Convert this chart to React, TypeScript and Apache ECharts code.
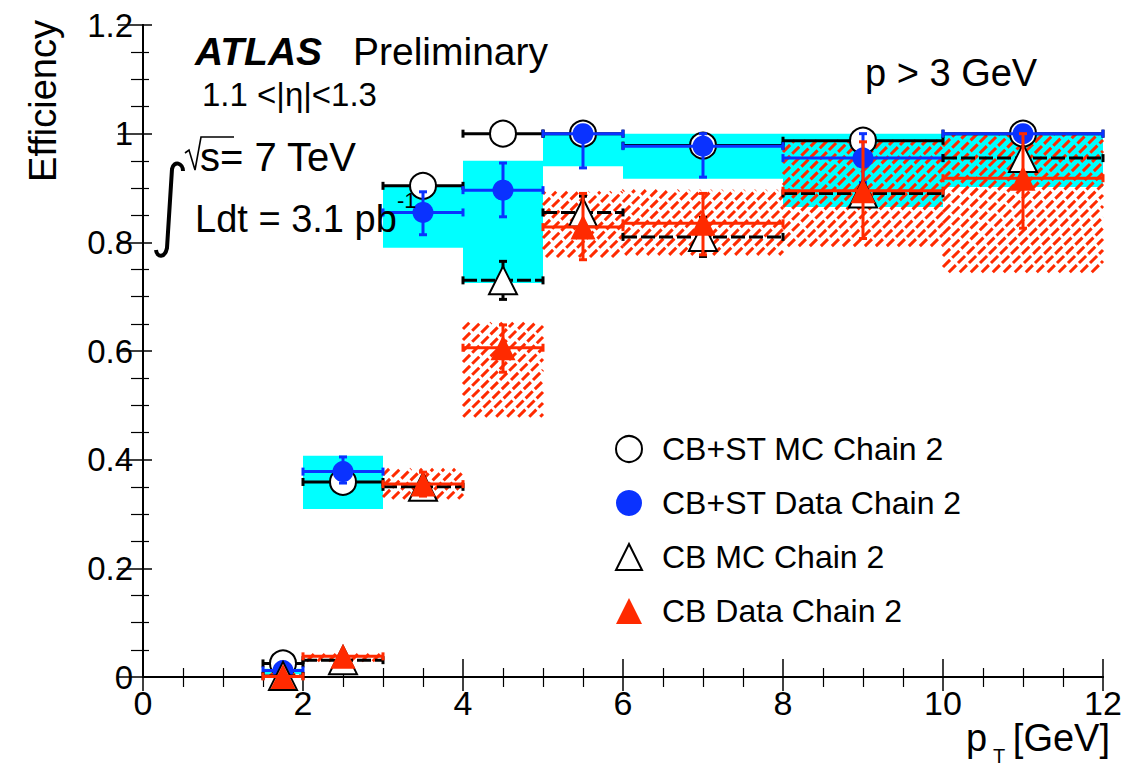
import React, { useEffect, useRef } from "react";
import * as echarts from "echarts";

// ---- data ----
const binLow = [1.5, 2, 3, 4, 5, 6, 8, 10];
const binHigh = [2, 3, 4, 5, 6, 8, 10, 12];
const binCenter = [1.75, 2.5, 3.5, 4.5, 5.5, 7, 9, 11];

// CB+ST MC Chain 2 (open circles)
const cbstMC = [0.025, 0.359, 0.904, 1.0, 1.0, 0.978, 0.987, 1.0];
const cbstMCErr = [0.004, 0.004, 0.004, 0.003, 0.003, 0.003, 0.004, 0.002];

// CB+ST Data Chain 2 (blue dots)
const cbstData = [0.012, 0.378, 0.855, 0.896, 1.0, 0.977, 0.955, 1.0];
const cbstDataErrLo = [0.004, 0.021, 0.041, 0.049, 0.063, 0.057, 0.045, 0.015];
const cbstDataErrHi = [0.004, 0.027, 0.038, 0.05, 0.0, 0.023, 0.045, 0.0];
const cbstSysLo = [0.005, 0.309, 0.79, 0.725, 0.94, 0.917, 0.865, 0.902];
const cbstSysHi = [0.015, 0.407, 0.902, 0.95, 1.0, 1.0, 1.0, 1.0];

// CB MC Chain 2 (open triangles)
const cbMC = [0.002, 0.031, 0.35, 0.73, 0.855, 0.81, 0.89, 0.955];
const cbMCErr = [0.003, 0.004, 0.008, 0.035, 0.03, 0.036, 0.012, 0.01];

// CB Data Chain 2 (red triangles)
const cbData = [0.001, 0.038, 0.355, 0.606, 0.828, 0.835, 0.895, 0.918];
const cbDataErrLo = [0.001, 0.005, 0.022, 0.045, 0.06, 0.058, 0.088, 0.092];
const cbDataErrHi = [0.003, 0.005, 0.022, 0.042, 0.062, 0.055, 0.09, 0.082];
const cbSysLo = [0.0, 0.029, 0.328, 0.479, 0.773, 0.777, 0.793, 0.745];
const cbSysHi = [0.007, 0.042, 0.383, 0.652, 0.893, 0.896, 0.988, 1.0];

const xTicks = { min: 0, max: 12, interval: 2 };
const yTicks = { min: 0, max: 1.2, interval: 0.2 };

const legendNames = [
  "CB+ST MC Chain 2",
  "CB+ST Data Chain 2",
  "CB MC Chain 2",
  "CB Data Chain 2",
];

const BLACK = "#000000";
const BLUE = "#0a32ff";
const RED = "#ff2a00";
const CYAN = "#00ffff";
const FONT = "'Liberation Sans', Arial, Helvetica, sans-serif";

// integral sign outline (drawn as stroked path)
echarts.graphic.registerShape(
  "integralSign",
  echarts.graphic.extendPath(
    "M 183 171 C 183 163, 174 160, 172 169 L 167 248 C 165 258, 157 258, 156 250",
    {}
  )
);

function bandData(lo: number[], hi: number[]) {
  return binLow.map((l, i) => [l, binHigh[i], lo[i], hi[i]]);
}

function errData(vals: number[], eLo: number[], eHi: number[]) {
  return binCenter.map((c, i) => [
    c,
    vals[i],
    binLow[i],
    binHigh[i],
    vals[i] - eLo[i],
    vals[i] + eHi[i],
  ]);
}

function rectRender(params: any, api: any) {
  const p0 = api.coord([api.value(0), api.value(2)]);
  const p1 = api.coord([api.value(1), api.value(3)]);
  return {
    type: "rect",
    shape: { x: p0[0], y: p1[1], width: p1[0] - p0[0], height: p0[1] - p1[1] },
    style: { fill: CYAN, stroke: null },
  };
}

function hatchRender(params: any, api: any) {
  const p0 = api.coord([api.value(0), api.value(2)]);
  const p1 = api.coord([api.value(1), api.value(3)]);
  const x0 = p0[0];
  const x1 = p1[0];
  const yTop = p1[1];
  const yBot = p0[1];
  const step = 11;
  const children: any[] = [];
  const cStart = Math.ceil((x0 + yTop) / step) * step;
  for (let c = cStart; c < x1 + yBot; c += step) {
    const xa = Math.max(x0, c - yBot);
    const xb = Math.min(x1, c - yTop);
    if (xb > xa + 0.5) {
      children.push({
        type: "line",
        shape: { x1: xa, y1: c - xa, x2: xb, y2: c - xb },
        style: { stroke: RED, lineWidth: 3, lineDash: [10, 3] },
      });
    }
  }
  return { type: "group", children };
}

function makeErrRender(color: string, dashed: boolean) {
  return function (params: any, api: any) {
    const xc = api.value(0);
    const y = api.value(1);
    const xl = api.value(2);
    const xh = api.value(3);
    const yl = api.value(4);
    const yh = api.value(5);
    const pl = api.coord([xl, y]);
    const ph = api.coord([xh, y]);
    const pyl = api.coord([xc, yl]);
    const pyh = api.coord([xc, yh]);
    const cap = 4;
    const lw = 3;
    const base = { stroke: color, lineWidth: lw };
    const children: any[] = [
      {
        type: "line",
        shape: { x1: pl[0], y1: pl[1], x2: ph[0], y2: ph[1] },
        style: dashed ? { ...base, lineDash: [14, 4] } : base,
      },
      { type: "line", shape: { x1: pl[0], y1: pl[1] - cap, x2: pl[0], y2: pl[1] + cap }, style: base },
      { type: "line", shape: { x1: ph[0], y1: ph[1] - cap, x2: ph[0], y2: ph[1] + cap }, style: base },
    ];
    if (Math.abs(pyl[1] - pyh[1]) > 1) {
      children.push({ type: "line", shape: { x1: pyl[0], y1: pyl[1], x2: pyh[0], y2: pyh[1] }, style: base });
      children.push({ type: "line", shape: { x1: pyl[0] - cap, y1: pyl[1], x2: pyl[0] + cap, y2: pyl[1] }, style: base });
      children.push({ type: "line", shape: { x1: pyh[0] - cap, y1: pyh[1], x2: pyh[0] + cap, y2: pyh[1] }, style: base });
    }
    return { type: "group", children };
  };
}

function pts(vals: number[]) {
  return binCenter.map((c, i) => [c, vals[i]]);
}

export default function App() {
  const ref = useRef<HTMLDivElement>(null);

  useEffect(() => {
    if (!ref.current) return;
    const chart = echarts.init(ref.current, null, { renderer: "svg" });

    const axisLineStyle = { color: BLACK, width: 2 };

    const option: any = {
      animation: false,
      backgroundColor: "#ffffff",
      textStyle: { fontFamily: FONT },
      grid: { left: 143, right: 42, top: 25, bottom: 90, containLabel: false },
      xAxis: [
        {
          type: "value",
          position: "bottom",
          min: xTicks.min,
          max: xTicks.max,
          interval: xTicks.interval,
          axisLine: { show: true, lineStyle: axisLineStyle },
          axisTick: { show: true, inside: true, length: 18, lineStyle: { color: BLACK, width: 1.5 } },
          minorTick: { show: true, splitNumber: 4, length: 9, lineStyle: { color: BLACK, width: 1.2 } },
          splitLine: { show: false },
          axisLabel: { fontSize: 34, color: BLACK, margin: 9, fontFamily: FONT },
        },
        {
          type: "value",
          position: "top",
          min: xTicks.min,
          max: xTicks.max,
          interval: xTicks.interval,
          axisLine: { show: true, lineStyle: axisLineStyle },
          axisTick: { show: true, inside: true, length: 14, lineStyle: { color: BLACK, width: 1.5 } },
          minorTick: { show: true, splitNumber: 4, length: 10, lineStyle: { color: BLACK, width: 1.2 } },
          splitLine: { show: false },
          axisLabel: { show: false },
        },
      ],
      yAxis: [
        {
          type: "value",
          position: "left",
          min: yTicks.min,
          max: yTicks.max,
          interval: yTicks.interval,
          axisLine: { show: true, lineStyle: axisLineStyle },
          axisTick: { show: true, inside: true, length: 9, lineStyle: { color: BLACK, width: 1.5 } },
          minorTick: { show: true, splitNumber: 4, length: 6, lineStyle: { color: BLACK, width: 1.2 } },
          splitLine: { show: false },
          axisLabel: { fontSize: 33, color: BLACK, margin: 10, fontFamily: FONT },
        },
        {
          type: "value",
          position: "right",
          min: yTicks.min,
          max: yTicks.max,
          interval: yTicks.interval,
          axisLine: { show: true, lineStyle: axisLineStyle },
          axisTick: { show: true, inside: true, length: 25, lineStyle: { color: BLACK, width: 1.5 } },
          minorTick: { show: true, splitNumber: 4, length: 12, lineStyle: { color: BLACK, width: 1.2 } },
          splitLine: { show: false },
          axisLabel: { show: false },
        },
      ],
      legend: {
        orient: "vertical",
        left: 610,
        top: 428,
        itemWidth: 26,
        itemHeight: 26,
        itemGap: 22,
        textStyle: { fontSize: 32, color: BLACK, fontFamily: FONT, padding: [0, 0, 0, 15] },
        data: legendNames,
      },
      series: [
        {
          type: "custom",
          name: "cbstSys",
          renderItem: rectRender,
          data: bandData(cbstSysLo, cbstSysHi),
          encode: { x: [0, 1], y: [2, 3] },
          z: 1,
          silent: true,
        },
        {
          type: "custom",
          name: "cbSys",
          renderItem: hatchRender,
          data: bandData(cbSysLo, cbSysHi),
          encode: { x: [0, 1], y: [2, 3] },
          z: 2,
          silent: true,
        },
        {
          type: "custom",
          name: "cbstMCErr",
          renderItem: makeErrRender(BLACK, false),
          data: errData(cbstMC, cbstMCErr, cbstMCErr),
          encode: { x: [0, 2, 3], y: [1, 4, 5] },
          z: 3,
        },
        {
          type: "scatter",
          name: legendNames[0],
          data: pts(cbstMC),
          symbol: "circle",
          symbolSize: 26,
          itemStyle: { color: "#ffffff", borderColor: BLACK, borderWidth: 2, opacity: 1 },
          z: 4,
        },
        {
          type: "custom",
          name: "cbstDataErr",
          renderItem: makeErrRender(BLUE, false),
          data: errData(cbstData, cbstDataErrLo, cbstDataErrHi),
          encode: { x: [0, 2, 3], y: [1, 4, 5] },
          z: 5,
        },
        {
          type: "scatter",
          name: legendNames[1],
          data: pts(cbstData),
          symbol: "circle",
          symbolSize: 21,
          itemStyle: { color: BLUE, opacity: 1 },
          z: 6,
        },
        {
          type: "custom",
          name: "cbMCErr",
          renderItem: makeErrRender(BLACK, true),
          data: errData(cbMC, cbMCErr, cbMCErr),
          encode: { x: [0, 2, 3], y: [1, 4, 5] },
          z: 7,
        },
        {
          type: "scatter",
          name: legendNames[2],
          data: pts(cbMC),
          symbol: "triangle",
          symbolSize: 28,
          itemStyle: { color: "#ffffff", borderColor: BLACK, borderWidth: 2, opacity: 1 },
          z: 8,
        },
        {
          type: "custom",
          name: "cbDataErr",
          renderItem: makeErrRender(RED, false),
          data: errData(cbData, cbDataErrLo, cbDataErrHi),
          encode: { x: [0, 2, 3], y: [1, 4, 5] },
          z: 9,
        },
        {
          type: "scatter",
          name: legendNames[3],
          data: pts(cbData),
          symbol: "triangle",
          symbolSize: 25,
          itemStyle: { color: RED, opacity: 1 },
          z: 10,
        },
      ],
      graphic: [
        {
          type: "text",
          x: 43,
          y: 20,
          rotation: Math.PI / 2,
          style: { text: "Efficiency", font: `38px ${FONT}`, fill: BLACK, align: "right", verticalAlign: "middle" },
          z: 100,
        },
        {
          type: "text",
          x: 966,
          y: 738,
          style: { text: "p", font: `38px ${FONT}`, fill: BLACK, align: "left", verticalAlign: "middle" },
          z: 100,
        },
        {
          type: "text",
          x: 993,
          y: 756,
          style: { text: "T", font: `20px ${FONT}`, fill: BLACK, align: "left", verticalAlign: "middle" },
          z: 100,
        },
        {
          type: "text",
          x: 1110,
          y: 738,
          style: { text: "[GeV]", font: `38px ${FONT}`, fill: BLACK, align: "right", verticalAlign: "middle" },
          z: 100,
        },
        {
          type: "text",
          x: 195,
          y: 51,
          style: { text: "ATLAS", font: `italic bold 39px ${FONT}`, fill: BLACK, align: "left", verticalAlign: "middle" },
          z: 100,
        },
        {
          type: "text",
          x: 353,
          y: 51,
          style: { text: "Preliminary", font: `39px ${FONT}`, fill: BLACK, align: "left", verticalAlign: "middle" },
          z: 100,
        },
        {
          type: "text",
          x: 202,
          y: 94,
          style: { text: "1.1 <|η|<1.3", font: `33px ${FONT}`, fill: BLACK, align: "left", verticalAlign: "middle" },
          z: 100,
        },
        {
          type: "text",
          x: 865,
          y: 73,
          style: { text: "p > 3 GeV", font: `38px ${FONT}`, fill: BLACK, align: "left", verticalAlign: "middle" },
          z: 100,
        },
        {
          type: "polyline",
          shape: { points: [[185, 153], [189, 150], [195, 170], [201, 137], [234, 137]] },
          style: { stroke: BLACK, lineWidth: 1.6, fill: null },
          z: 100,
        },
        {
          type: "text",
          x: 200,
          y: 157,
          style: { text: "s= 7 TeV", font: `40px ${FONT}`, fill: BLACK, align: "left", verticalAlign: "middle" },
          z: 100,
        },
        {
          type: "integralSign",
          x: 0,
          y: 0,
          style: { stroke: BLACK, lineWidth: 4, fill: null },
          z: 100,
        },
        {
          type: "text",
          x: 195,
          y: 219,
          style: { text: "Ldt = 3.1 pb", font: `38px ${FONT}`, fill: BLACK, align: "left", verticalAlign: "middle" },
          z: 100,
        },
        {
          type: "text",
          x: 397,
          y: 200,
          style: { text: "-1", font: `22px ${FONT}`, fill: BLACK, align: "left", verticalAlign: "middle" },
          z: 101,
        },
      ],
    };

    chart.setOption(option);
    return () => chart.dispose();
  }, []);

  return <div ref={ref} style={{ width: 1145, height: 767, position: "absolute", left: 0, top: 0 }} />;
}
